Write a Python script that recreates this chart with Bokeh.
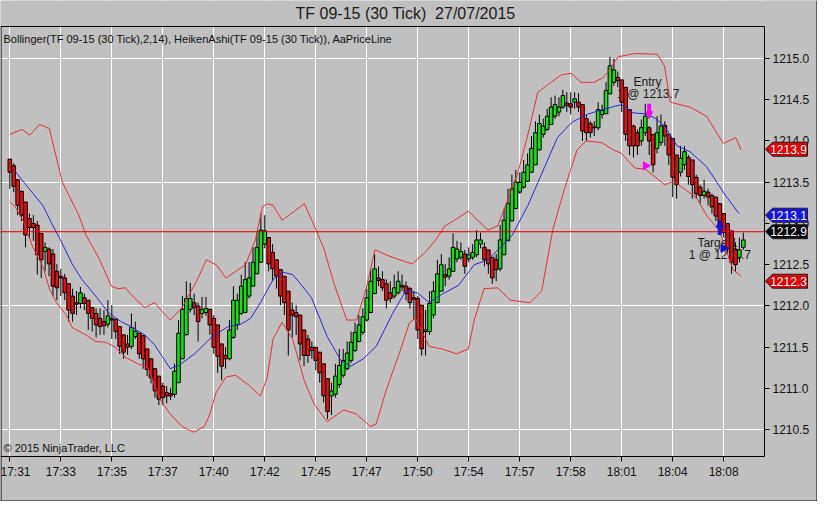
from bokeh.plotting import figure
from bokeh.models import (ColumnDataSource, Range1d, FixedTicker, PrintfTickFormatter,
                          BoxAnnotation, Arrow, NormalHead)
from bokeh.core.properties import value
from bokeh.embed import file_html
from bokeh.resources import INLINE

# Heiken Ashi bars (TF 09-15, 30 tick)
ha_open = [
    1213.78, 1213.70, 1213.53, 1213.39, 1213.26, 1213.06, 1213.00, 1212.98, 1212.88, 1212.66,
    1212.69, 1212.63, 1212.42, 1212.36, 1212.34, 1212.27, 1212.12, 1212.04, 1212.03, 1212.10,
    1212.07, 1211.98, 1211.91, 1211.85, 1211.81, 1211.78, 1211.85, 1211.84, 1211.75, 1211.65,
    1211.54, 1211.51, 1211.63, 1211.67, 1211.64, 1211.48, 1211.36, 1211.24, 1211.15, 1211.03,
    1210.95, 1210.94, 1210.93, 1211.07, 1211.36, 1211.65, 1211.96, 1212.04, 1212.00, 1211.91,
    1211.92, 1211.96, 1211.85, 1211.77, 1211.54, 1211.40, 1211.36, 1211.62, 1211.77, 1211.91,
    1211.92, 1212.12, 1212.24, 1212.39, 1212.53, 1212.75, 1212.83, 1212.65, 1212.56, 1212.44,
    1212.36, 1212.18, 1211.95, 1211.92, 1211.89, 1211.71, 1211.60, 1211.50, 1211.50, 1211.44,
    1211.30, 1211.12, 1210.91, 1210.93, 1211.05, 1211.16, 1211.24, 1211.34, 1211.46, 1211.57,
    1211.68, 1211.83, 1211.92, 1212.15, 1212.34, 1212.32, 1212.27, 1212.16, 1212.12, 1212.16,
    1212.25, 1212.24, 1212.21, 1212.10, 1212.09, 1212.01, 1211.69, 1211.69, 1211.89, 1212.04,
    1212.18, 1212.38, 1212.36, 1212.42, 1212.57, 1212.59, 1212.63, 1212.57, 1212.59, 1212.62,
    1212.75, 1212.71, 1212.68, 1212.59, 1212.56, 1212.45, 1212.62, 1212.79, 1213.03, 1213.18,
    1213.38, 1213.44, 1213.51, 1213.62, 1213.71, 1213.89, 1214.08, 1214.14, 1214.20, 1214.30,
    1214.35, 1214.41, 1214.46, 1214.45, 1214.47, 1214.47, 1214.44, 1214.27, 1214.21, 1214.17,
    1214.16, 1214.32, 1214.33, 1214.57, 1214.71, 1214.77, 1214.74, 1214.65, 1214.38, 1214.18,
    1214.10, 1214.00, 1214.10, 1214.16, 1214.08, 1213.91, 1213.98, 1214.19, 1214.08, 1214.03,
    1213.83, 1213.62, 1213.71, 1213.80, 1213.77, 1213.56, 1213.44, 1213.34, 1213.38, 1213.34,
    1213.32, 1213.24, 1213.12, 1213.00, 1212.91, 1212.69, 1212.59, 1212.71,
]
ha_high = [
    1213.78, 1213.73, 1213.53, 1213.39, 1213.26, 1213.12, 1213.10, 1213.03, 1212.88, 1212.77,
    1212.71, 1212.69, 1212.51, 1212.45, 1212.39, 1212.27, 1212.21, 1212.18, 1212.23, 1212.15,
    1212.07, 1211.98, 1211.97, 1211.97, 1211.95, 1212.07, 1212.01, 1211.84, 1211.75, 1211.65,
    1211.65, 1211.91, 1211.81, 1211.67, 1211.64, 1211.48, 1211.36, 1211.24, 1211.15, 1211.07,
    1211.03, 1211.01, 1211.30, 1211.83, 1212.12, 1212.30, 1212.28, 1212.15, 1212.04, 1212.11,
    1212.11, 1211.96, 1211.89, 1211.77, 1211.54, 1211.50, 1211.83, 1212.24, 1212.15, 1212.38,
    1212.53, 1212.53, 1212.71, 1212.89, 1213.12, 1213.10, 1212.83, 1212.75, 1212.56, 1212.44,
    1212.36, 1212.18, 1212.04, 1212.01, 1211.89, 1211.71, 1211.65, 1211.57, 1211.50, 1211.44,
    1211.30, 1211.12, 1211.07, 1211.30, 1211.48, 1211.48, 1211.57, 1211.69, 1211.80, 1211.89,
    1211.97, 1212.21, 1212.44, 1212.63, 1212.48, 1212.42, 1212.32, 1212.30, 1212.38, 1212.42,
    1212.38, 1212.30, 1212.23, 1212.18, 1212.12, 1212.01, 1211.95, 1212.18, 1212.30, 1212.56,
    1212.63, 1212.51, 1212.59, 1212.88, 1212.79, 1212.77, 1212.68, 1212.71, 1212.75, 1212.92,
    1212.89, 1212.77, 1212.68, 1212.59, 1212.63, 1212.98, 1213.18, 1213.42, 1213.59, 1213.65,
    1213.62, 1213.77, 1213.85, 1214.06, 1214.24, 1214.32, 1214.27, 1214.39, 1214.53, 1214.55,
    1214.53, 1214.62, 1214.59, 1214.59, 1214.59, 1214.58, 1214.44, 1214.32, 1214.24, 1214.24,
    1214.47, 1214.44, 1214.71, 1215.02, 1215.00, 1214.84, 1214.74, 1214.65, 1214.38, 1214.20,
    1214.14, 1214.26, 1214.45, 1214.18, 1214.08, 1214.30, 1214.32, 1214.24, 1214.08, 1214.03,
    1213.83, 1213.94, 1213.94, 1213.83, 1213.77, 1213.59, 1213.47, 1213.53, 1213.42, 1213.36,
    1213.32, 1213.24, 1213.12, 1213.00, 1212.91, 1212.77, 1212.83, 1212.89,
]
ha_low = [
    1213.42, 1213.38, 1213.10, 1213.03, 1212.71, 1212.82, 1212.79, 1212.38, 1212.34, 1212.42,
    1212.36, 1212.12, 1212.07, 1212.12, 1212.07, 1211.81, 1211.81, 1211.89, 1211.97, 1211.95,
    1211.71, 1211.69, 1211.62, 1211.65, 1211.65, 1211.74, 1211.60, 1211.60, 1211.42, 1211.36,
    1211.41, 1211.48, 1211.60, 1211.36, 1211.24, 1211.15, 1211.06, 1210.89, 1210.80, 1210.80,
    1210.82, 1210.86, 1210.89, 1211.07, 1211.36, 1211.65, 1211.92, 1211.89, 1211.57, 1211.85,
    1211.88, 1211.65, 1211.42, 1211.19, 1211.10, 1211.24, 1211.34, 1211.60, 1211.71, 1211.89,
    1211.92, 1212.09, 1212.24, 1212.39, 1212.53, 1212.70, 1212.42, 1212.30, 1212.21, 1212.01,
    1211.89, 1211.40, 1211.62, 1211.65, 1211.34, 1211.27, 1211.31, 1211.36, 1211.22, 1211.07,
    1210.83, 1210.63, 1210.68, 1210.89, 1211.01, 1211.13, 1211.22, 1211.31, 1211.44, 1211.56,
    1211.65, 1211.81, 1211.92, 1212.15, 1212.24, 1212.18, 1211.97, 1212.04, 1212.09, 1212.14,
    1212.18, 1212.07, 1211.97, 1211.83, 1211.60, 1211.40, 1211.40, 1211.65, 1211.85, 1212.04,
    1212.18, 1212.24, 1212.32, 1212.42, 1212.53, 1212.56, 1212.39, 1212.53, 1212.56, 1212.59,
    1212.70, 1212.48, 1212.39, 1212.27, 1212.30, 1212.42, 1212.62, 1212.79, 1213.03, 1213.18,
    1213.36, 1213.42, 1213.50, 1213.62, 1213.71, 1213.89, 1214.04, 1214.12, 1214.20, 1214.27,
    1214.30, 1214.39, 1214.35, 1214.32, 1214.39, 1214.35, 1214.00, 1214.00, 1214.04, 1214.06,
    1214.13, 1214.27, 1214.33, 1214.57, 1214.67, 1214.65, 1214.35, 1214.00, 1213.83, 1213.80,
    1213.83, 1213.94, 1214.06, 1213.83, 1213.62, 1213.85, 1213.94, 1213.94, 1213.71, 1213.32,
    1213.30, 1213.57, 1213.65, 1213.47, 1213.30, 1213.30, 1213.24, 1213.30, 1213.22, 1213.12,
    1213.03, 1212.95, 1212.83, 1212.63, 1212.39, 1212.42, 1212.53, 1212.68,
]
ha_close = [
    1213.62, 1213.45, 1213.22, 1213.10, 1212.86, 1212.95, 1212.95, 1212.62, 1212.56, 1212.71,
    1212.51, 1212.24, 1212.22, 1212.34, 1212.16, 1211.95, 1211.91, 1212.02, 1212.16, 1212.03,
    1211.91, 1211.85, 1211.77, 1211.75, 1211.76, 1211.88, 1211.83, 1211.69, 1211.51, 1211.44,
    1211.50, 1211.74, 1211.69, 1211.42, 1211.36, 1211.23, 1211.13, 1210.97, 1210.87, 1210.89,
    1210.91, 1210.91, 1211.21, 1211.67, 1211.96, 1212.09, 1212.09, 1211.98, 1211.81, 1211.96,
    1211.97, 1211.77, 1211.50, 1211.39, 1211.27, 1211.36, 1211.71, 1212.07, 1212.07, 1212.24,
    1212.32, 1212.34, 1212.53, 1212.71, 1212.92, 1212.91, 1212.51, 1212.45, 1212.36, 1212.12,
    1212.04, 1211.71, 1211.89, 1211.87, 1211.54, 1211.40, 1211.40, 1211.46, 1211.34, 1211.19,
    1210.91, 1210.72, 1210.97, 1211.15, 1211.28, 1211.34, 1211.43, 1211.56, 1211.68, 1211.77,
    1211.87, 1212.10, 1212.30, 1212.45, 1212.31, 1212.22, 1212.07, 1212.09, 1212.22, 1212.30,
    1212.23, 1212.15, 1212.04, 1212.08, 1211.71, 1211.48, 1211.71, 1212.03, 1212.18, 1212.39,
    1212.50, 1212.35, 1212.45, 1212.71, 1212.69, 1212.66, 1212.48, 1212.62, 1212.65, 1212.80,
    1212.80, 1212.56, 1212.51, 1212.34, 1212.44, 1212.80, 1213.04, 1213.24, 1213.42, 1213.50,
    1213.50, 1213.62, 1213.71, 1213.91, 1214.10, 1214.21, 1214.18, 1214.30, 1214.41, 1214.44,
    1214.41, 1214.55, 1214.43, 1214.41, 1214.51, 1214.41, 1214.12, 1214.10, 1214.10, 1214.16,
    1214.38, 1214.37, 1214.61, 1214.91, 1214.86, 1214.73, 1214.47, 1214.08, 1213.94, 1213.94,
    1213.94, 1214.16, 1214.30, 1214.00, 1213.71, 1214.10, 1214.18, 1214.06, 1213.83, 1213.56,
    1213.47, 1213.79, 1213.87, 1213.57, 1213.47, 1213.36, 1213.34, 1213.39, 1213.32, 1213.20,
    1213.09, 1213.00, 1212.89, 1212.69, 1212.53, 1212.50, 1212.68, 1212.80,
]

# Bollinger(2, 14) bands, read at bar positions
upper_bar = [0, 3.1, 5.1, 7.6, 10.1, 11.4, 13.4, 17.6, 19.4, 22.6, 25.9, 27.6, 29.4, 31.9, 34.4,
             36.9, 38.9, 40.9, 43.9, 47.6, 50.1, 52.6, 55.1, 57.6, 60.1, 62.6, 64.4, 65.6, 67.1,
             69.4, 70.9, 72.6, 75.1, 78.1, 80.1, 82.6, 85.9, 88.4, 90.9, 93.1, 95.9, 99.4, 102.6,
             105.9, 108.4, 110.9, 113.4, 116.9, 119.4, 121.9, 124.4, 126.4, 129.6, 132.1, 134.6,
             137.1, 140.6, 143.1, 145.6, 148.9, 151.4, 153.1, 155.1, 159.4, 165.1, 166.9, 168.4,
             173.4, 177.6, 181.9, 185.1, 186.4]
upper_px = [1214.08, 1214.14, 1214.07, 1214.20, 1214.15, 1213.89, 1213.50, 1213.10, 1212.86,
            1212.59, 1212.24, 1212.21, 1212.22, 1212.09, 1211.98, 1212.04, 1211.93, 1211.83,
            1211.98, 1212.30, 1212.56, 1212.50, 1212.34, 1212.42, 1212.50, 1212.80, 1213.20,
            1213.24, 1213.22, 1213.04, 1213.09, 1213.15, 1213.24, 1212.92, 1212.69, 1212.28,
            1211.83, 1211.83, 1212.22, 1212.68, 1212.62, 1212.56, 1212.51, 1212.65, 1212.79,
            1212.97, 1213.04, 1213.15, 1213.03, 1212.92, 1212.97, 1213.22, 1213.63, 1214.08,
            1214.59, 1214.68, 1214.80, 1214.82, 1214.71, 1214.71, 1214.77, 1214.88, 1215.02,
            1215.06, 1215.05, 1214.91, 1214.47, 1214.41, 1214.30, 1213.97, 1214.04, 1213.89]
mid_bar = [1.4, 4.4, 8.4, 10.9, 12.6, 15.9, 18.4, 21.9, 25.1, 28.4, 30.9, 34.4, 36.9, 40.9, 43.1,
           47.1, 51.4, 55.6, 58.9, 61.4, 63.9, 67.1, 69.6, 72.1, 74.6, 76.9, 80.9, 84.4, 86.9,
           90.1, 93.4, 97.6, 100.9, 103.9, 106.9, 110.1, 114.4, 118.4, 121.9, 124.4, 128.1,
           132.1, 136.4, 139.6, 143.4, 147.6, 153.4, 155.9, 158.9, 161.9, 164.4, 166.9, 170.1,
           173.4, 177.6, 182.6, 185.9]
mid_px = [1213.63, 1213.45, 1213.22, 1212.98, 1212.83, 1212.51, 1212.32, 1212.12, 1211.92,
          1211.81, 1211.75, 1211.65, 1211.53, 1211.24, 1211.28, 1211.42, 1211.62, 1211.75,
          1211.78, 1211.85, 1212.04, 1212.32, 1212.41, 1212.38, 1212.24, 1212.10, 1211.63,
          1211.34, 1211.27, 1211.36, 1211.51, 1211.91, 1212.18, 1212.16, 1212.04, 1212.14,
          1212.25, 1212.50, 1212.56, 1212.68, 1212.86, 1213.22, 1213.69, 1214.04, 1214.23,
          1214.33, 1214.41, 1214.44, 1214.34, 1214.33, 1214.28, 1214.18, 1213.94, 1213.87,
          1213.69, 1213.33, 1213.12]
lower_bar = [0, 1.4, 3.4, 5.9, 8.4, 10.1, 11.9, 14.4, 15.9, 19.4, 21.9, 24.4, 26.9, 29.4, 32.6,
             35.1, 38.4, 40.9, 43.9, 46.9, 49.6, 50.9, 52.6, 55.1, 57.6, 60.9, 63.9, 65.6, 67.1,
             69.4, 72.1, 75.1, 77.6, 80.9, 85.1, 88.4, 91.9, 93.4, 95.9, 99.4, 101.9, 103.4,
             106.9, 110.1, 113.9, 116.9, 118.4, 120.9, 124.4, 127.6, 132.6, 135.6, 138.4, 141.4,
             144.6, 146.9, 150.9, 153.9, 155.9, 159.4, 161.9, 164.4, 166.9, 169.4, 171.9, 175.1,
             177.6, 180.9, 184.4, 186.4]
lower_px = [1213.26, 1213.20, 1213.03, 1212.71, 1212.48, 1212.21, 1212.04, 1211.89, 1211.74,
            1211.65, 1211.57, 1211.56, 1211.50, 1211.38, 1211.30, 1211.26, 1210.86, 1210.69,
            1210.54, 1210.47, 1210.54, 1210.68, 1210.95, 1211.14, 1211.16, 1211.04, 1210.91,
            1211.13, 1211.60, 1211.80, 1211.60, 1211.09, 1210.81, 1210.60, 1210.74, 1210.69,
            1210.54, 1210.57, 1210.97, 1211.44, 1211.80, 1211.85, 1211.51, 1211.48, 1211.42,
            1211.48, 1211.83, 1212.21, 1212.22, 1212.07, 1212.04, 1212.18, 1212.92, 1213.42,
            1213.89, 1214.00, 1213.98, 1213.89, 1213.85, 1213.67, 1213.66, 1213.57, 1213.47,
            1213.51, 1213.42, 1213.31, 1213.10, 1212.91, 1212.44, 1212.36]

tick_bars = [0, 13, 26, 39, 52, 65, 78, 91, 104, 117, 130, 143, 156, 169, 182]
tick_times = ["17:31", "17:33", "17:35", "17:37", "17:40", "17:42", "17:45", "17:47",
              "17:50", "17:54", "17:57", "17:58", "18:01", "18:04", "18:08"]

last_price = 1212.9
marker_values = [1213.9, 1213.1, 1212.9, 1212.3]
marker_colors = ["#E00000", "#1414E6", "#000000", "#E00000"]

# trade: short entry, target exit
entry_bar, entry_price = 163, 1213.7
exit_bar, exit_price = 181, 1212.7

RED = "#E41010"
GREEN = "#10E410"
FONT = "Liberation Sans"
BG = "#C0C0C0"

W, H = 817, 501
# price panel: bars X0..X1, prices Y0..Y1; it is 764 x 430 px, 26 px from the top
X0, X1 = -2.375, 192.4
Y0, Y1 = 1210.176, 1215.387
XPX = 764 / (X1 - X0)          # px per bar
YPX = 430 / (Y1 - Y0)          # px per point
FX1 = X0 + W / XPX             # whole canvas in data units
FY1 = Y1 + 26 / YPX
FY0 = Y0 - 45 / YPX

bars = list(range(len(ha_open)))
src = ColumnDataSource(dict(
    bar=bars, high=ha_high, low=ha_low,
    top=[max(o, c) for o, c in zip(ha_open, ha_close)],
    bottom=[min(o, c) for o, c in zip(ha_open, ha_close)],
    color=[GREEN if c >= o else RED for o, c in zip(ha_open, ha_close)],
))

p = figure(width=W, height=H, title=None,
           x_range=Range1d(X0, FX1), y_range=Range1d(FY0, FY1),
           y_axis_location="right", output_backend="svg", toolbar_location=None,
           min_border=0)
p.background_fill_color = BG
p.border_fill_color = BG
p.outline_line_color = None

# axes pinned to the edges of the price panel
p.xaxis.fixed_location = Y0
p.xaxis.bounds = (X0, X1)
p.xaxis.ticker = FixedTicker(ticks=tick_bars)
p.xaxis.major_label_overrides = dict(zip(tick_bars, tick_times))
p.yaxis.fixed_location = X1
p.yaxis.bounds = (Y0, Y1)
p.yaxis.ticker = FixedTicker(ticks=[1210.5 + 0.5 * k for k in range(10)])
p.yaxis.formatter = PrintfTickFormatter(format="%.1f")
for ax in (p.xaxis, p.yaxis):
    ax.axis_line_color = "black"
    ax.major_tick_line_color = "black"
    ax.major_tick_in = 0
    ax.major_tick_out = 5
    ax.minor_tick_line_color = None
    ax.major_label_text_font = FONT
    ax.major_label_text_font_size = "12px"
    ax.major_label_text_color = "#111111"
    ax.major_label_standoff = 3
p.xgrid.grid_line_color = "white"
p.ygrid.grid_line_color = "white"
p.xgrid.ticker = FixedTicker(ticks=tick_bars)
p.ygrid.ticker = FixedTicker(ticks=[1210.5, 1212.0, 1213.5, 1215.0])

# grey margins over the grid, outside the price panel
for box in (BoxAnnotation(left=X1, fill_color=BG, fill_alpha=1, line_color=None, level="underlay"),
            BoxAnnotation(bottom=Y1, fill_color=BG, fill_alpha=1, line_color=None, level="underlay"),
            BoxAnnotation(top=Y0, fill_color=BG, fill_alpha=1, line_color=None, level="underlay")):
    p.add_layout(box)

# panel border and window edges
e = 0.5 / XPX
p.segment(x0=[X0 + e, X0, X0 + e, FX1 - e], y0=[FY0, Y1, FY0 + 0.5 / YPX, FY0],
          x1=[X0 + e, X1, FX1, FX1 - e], y1=[Y1, Y1, FY0 + 0.5 / YPX, FY1],
          line_color="black", line_width=1)

# trade texts sit under the bars
p.text(x=[162.6, 162.8, 180.4, 181.0],
       y=[1214.72, 1214.57, 1212.76, 1212.62],
       text=["Entry", f"1 @ {entry_price}", "Target1", f"1 @ {exit_price}"],
       text_font=value(FONT), text_font_size="12px", text_color="#1a1a1a",
       text_align="center", text_baseline="middle")

# Heiken Ashi candles
p.segment(x0="bar", y0="low", x1="bar", y1="high", source=src, line_color="black", line_width=1)
p.vbar(x="bar", width=0.92, top="top", bottom="bottom", source=src,
       fill_color="color", line_color="black", line_width=1)

# Bollinger
p.line(upper_bar, upper_px, line_color="#E03232", line_width=1)
p.line(lower_bar, lower_px, line_color="#E03232", line_width=1)
p.line(mid_bar, mid_px, line_color="#2828D2", line_width=1)

# price line, stops at the axis
p.segment(x0=[X0], y0=[last_price], x1=[X1], y1=[last_price], line_color="#E00000", line_width=1)

# executions
p.add_layout(Arrow(x_start=entry_bar, y_start=1214.45, x_end=entry_bar, y_end=1214.27,
                   line_color="#FF00FF", line_width=4,
                   end=NormalHead(size=7, fill_color="#FF00FF", line_color="#FF00FF")))
p.add_layout(Arrow(x_start=exit_bar, y_start=1212.86, x_end=exit_bar, y_end=1213.04,
                   line_color="#1010E0", line_width=4,
                   end=NormalHead(size=7, fill_color="#1010E0", line_color="#1010E0")))
p.scatter([entry_bar - 0.9], [entry_price], marker="triangle", angle=-1.5708, size=8,
          fill_color="#FF00FF", line_color="#FF00FF")
p.scatter([exit_bar + 0.9], [exit_price], marker="triangle", angle=-1.5708, size=8,
          fill_color="#1010E0", line_color="#1010E0")

# price markers over the right axis labels
tip, body_l, body_r = X1 + 1 / XPX, X1 + 8 / XPX, X1 + 43 / XPX
hh = 7 / YPX
p.patches(xs=[[tip, body_l, body_r, body_r, body_l] for _ in marker_values],
          ys=[[v, v + hh, v + hh, v - hh, v - hh] for v in marker_values],
          fill_color=marker_colors, line_color="#202020", line_width=1, level="overlay")
p.text(x=[(body_l + body_r) / 2 - 1.5 / XPX] * len(marker_values), y=marker_values,
       text=[f"{v:.1f}" for v in marker_values], text_color="white",
       text_font=value(FONT), text_font_size="12px",
       text_align="center", text_baseline="middle", level="overlay")

# title, indicator list, copyright
p.text(x=[X0 + 405 / XPX], y=[Y1 + 13 / YPX], text=["TF 09-15 (30 Tick)\u00a0 27/07/2015"],
       text_font=value(FONT), text_font_size="16px", text_color="#1a1a1a",
       text_align="center", text_baseline="middle")
p.text(x=[X0 + 3 / XPX], y=[Y1 - 6 / YPX],
       text=["Bollinger(TF 09-15 (30 Tick),2,14), HeikenAshi(TF 09-15 (30 Tick)), AaPriceLine"],
       text_font=value(FONT), text_font_size="11px", text_color="#111111",
       text_align="left", text_baseline="top")
p.text(x=[X0 + 3 / XPX], y=[Y0 + 3 / YPX], text=["\u00a9 2015 NinjaTrader, LLC"],
       text_font=value(FONT), text_font_size="11px", text_color="#111111",
       text_align="left", text_baseline="bottom")

open("out.html", "w").write(file_html(p, INLINE))
